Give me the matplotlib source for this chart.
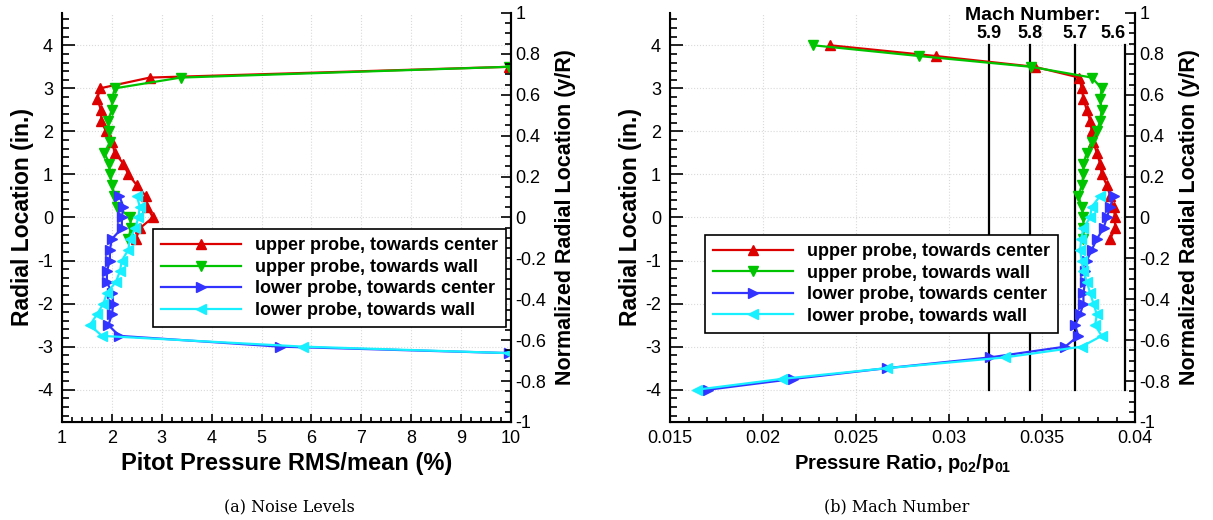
import matplotlib
matplotlib.use('Agg')
import matplotlib.pyplot as plt
from matplotlib.ticker import AutoMinorLocator, FormatStrFormatter

plt.rcParams['font.family'] = ['Liberation Sans', 'DejaVu Sans']
plt.rcParams['axes.unicode_minus'] = False
plt.rcParams['mathtext.fontset'] = 'custom'
plt.rcParams['mathtext.rm'] = 'Liberation Sans'
plt.rcParams['mathtext.bf'] = 'Liberation Sans:bold'

# ---- data: (a) noise levels ----
up_y = [3.5, 3.25, 3.0, 2.75, 2.5, 2.25, 2.0, 1.75, 1.5, 1.25, 1.0, 0.75, 0.5, 0.25, 0.0, -0.25, -0.5]
noise_up_center = [9.95, 2.76, 1.76, 1.71, 1.78, 1.79, 1.88, 2.0, 2.06, 2.23, 2.33, 2.50, 2.68, 2.71, 2.82, 2.56, 2.48]
noise_up_wall = [9.95, 3.38, 2.06, 2.0, 2.0, 1.92, 1.94, 1.96, 1.85, 1.95, 1.96, 2.01, 2.05, 2.10, 2.37, 2.38, 2.33]

low_y = [0.5, 0.25, 0.0, -0.25, -0.5, -0.75, -1.0, -1.25, -1.5, -1.75, -2.0, -2.25, -2.5, -2.75, -3.0, -3.15]
noise_low_center = [2.15, 2.23, 2.2, 2.2, 2.0, 1.96, 1.96, 1.9, 1.9, 2.0, 2.03, 2.0, 1.93, 2.15, 5.37, 9.95]
noise_low_wall = [2.5, 2.56, 2.53, 2.47, 2.36, 2.33, 2.2, 2.16, 2.08, 1.9, 1.83, 1.70, 1.56, 1.80, 5.84, 9.95]

# ---- data: (b) Mach number ----
up_y2 = [4.0, 3.75, 3.5, 3.25, 3.0, 2.75, 2.5, 2.25, 2.0, 1.75, 1.5, 1.25, 1.0, 0.75, 0.5, 0.25, 0.0, -0.25, -0.5]
ratio_up_center = [0.0236, 0.0293, 0.0346, 0.0370, 0.03713, 0.03722, 0.0374, 0.03758, 0.03767, 0.03776,
                   0.03794, 0.03812, 0.03821, 0.03848, 0.03866, 0.03884, 0.03892, 0.03892, 0.03866]
ratio_up_wall = [0.0227, 0.0284, 0.0344, 0.03767, 0.0382, 0.03812, 0.0382, 0.03812, 0.03794, 0.03767,
                 0.0374, 0.03722, 0.03722, 0.03713, 0.03695, 0.03713, 0.03722, 0.03722, 0.03722]

low_y2 = [0.5, 0.25, 0.0, -0.25, -0.5, -0.75, -1.0, -1.25, -1.5, -1.75, -2.0, -2.25, -2.5, -2.75, -3.0, -3.25, -3.5, -3.75, -4.0]
ratio_low_center = [0.03884, 0.03866, 0.03848, 0.0383, 0.03794, 0.03767, 0.0374, 0.03731, 0.03731, 0.03722,
                    0.03722, 0.03704, 0.03677, 0.03695, 0.03624, 0.0322, 0.02665, 0.02163, 0.01706]
ratio_low_wall = [0.03812, 0.03767, 0.03758, 0.03722, 0.0371, 0.03704, 0.03713, 0.03722, 0.0374, 0.03758,
                  0.03776, 0.03794, 0.03785, 0.0382, 0.03713, 0.03301, 0.02665, 0.02100, 0.01644]

mach_labels = ['5.9', '5.8', '5.7', '5.6']
mach_ratio = [0.03217, 0.03436, 0.03677, 0.03946]

labels = ['upper probe, towards center', 'upper probe, towards wall',
          'lower probe, towards center', 'lower probe, towards wall']
colors = ['#dd0000', '#00c400', '#3333ff', '#18f0ff']
markers = ['^', 'v', '>', '<']

R = 4.75
yr_ticks = [-1, -0.8, -0.6, -0.4, -0.2, 0, 0.2, 0.4, 0.6, 0.8, 1]

fig = plt.figure(figsize=(12.13, 5.2), dpi=100)


def setup(ax, xlabel, xsize):
    ax.set_ylim(-R, R)
    ax.spines['top'].set_visible(False)
    for s in ['left', 'bottom', 'right']:
        ax.spines[s].set_linewidth(1.5)
    ax.xaxis.set_minor_locator(AutoMinorLocator(5))
    ax.yaxis.set_minor_locator(AutoMinorLocator(5))
    ax.set_yticks([-4, -3, -2, -1, 0, 1, 2, 3, 4])
    ax.tick_params(axis='both', which='both', direction='in', labelsize=13, width=1.2,
                   top=False, right=False)
    ax.tick_params(axis='y', which='major', length=9, pad=6.5)
    ax.tick_params(axis='y', which='minor', length=5)
    ax.tick_params(axis='x', which='major', length=6, pad=5.5)
    ax.tick_params(axis='x', which='minor', length=3.5)
    ax.grid(True, which='major', color='#dadada', linestyle=':', linewidth=0.8)
    ax.set_axisbelow(True)
    ax.set_xlabel(xlabel, fontsize=xsize, fontweight='bold', labelpad=4)
    ax.set_ylabel('Radial Location (in.)', fontsize=16.5, fontweight='bold', labelpad=2)
    ax2 = ax.twinx()
    ax2.set_ylim(-1, 1)
    ax2.spines['top'].set_visible(False)
    ax2.spines['right'].set_linewidth(1.5)
    ax2.set_yticks(yr_ticks)
    ax2.set_yticklabels(['%g' % t for t in yr_ticks])
    ax2.yaxis.set_minor_locator(AutoMinorLocator(4))
    ax2.tick_params(axis='y', which='both', direction='in', labelsize=13, width=1.2, pad=3)
    ax2.tick_params(axis='y', which='major', length=7)
    ax2.tick_params(axis='y', which='minor', length=4)
    ax2.set_ylabel('Normalized Radial Location (y/R)', fontsize=15.5, fontweight='bold', labelpad=6)
    return ax2


def draw(ax, xs, ys):
    for x, y, c, m, lab in zip(xs, ys, colors, markers, labels):
        ax.plot(x, y, color=c, marker=m, markersize=7, linewidth=1.6,
                markeredgecolor=c, label=lab, zorder=3)


def add_legend(ax, loc, anchor):
    leg = ax.legend(loc=loc, bbox_to_anchor=anchor,
                    prop={'weight': 'bold', 'size': 13}, numpoints=1, handlelength=4.4,
                    fancybox=False, framealpha=1, edgecolor='black', borderpad=0.45,
                    labelspacing=0.25, handletextpad=0.8, borderaxespad=0)
    leg.get_frame().set_linewidth(1.2)
    return leg


# (a) noise levels
ax = fig.add_axes([0.0511, 0.1885, 0.3702, 0.7865])
ax.set_xlim(1, 10)
ax.set_xticks(range(1, 11))
draw(ax, [noise_up_center, noise_up_wall, noise_low_center, noise_low_wall],
     [up_y, up_y, low_y, low_y])
ax2 = setup(ax, 'Pitot Pressure RMS/mean (%)', 17)
leg = add_legend(ax, 'lower right', (0.989, 0.232))
leg.remove()
ax2.add_artist(leg)

# (b) Mach number
bx = fig.add_axes([0.5524, 0.1885, 0.3834, 0.7865])
bx.set_xlim(0.015, 0.04)
bx.set_xticks([0.015, 0.02, 0.025, 0.03, 0.035, 0.04])
bx.xaxis.set_major_formatter(FormatStrFormatter('%g'))
draw(bx, [ratio_up_center, ratio_up_wall, ratio_low_center, ratio_low_wall],
     [up_y2, up_y2, low_y2, low_y2])
for i, (m, r) in enumerate(zip(mach_labels, mach_ratio)):
    bx.plot([r, r], [-4, 4], color='black', linewidth=1.6, zorder=2)
    ha = 'right' if i == len(mach_labels) - 1 else 'center'
    bx.text(r, 4.27, m, ha=ha, va='center', fontsize=13, fontweight='bold')
bx.text(0.0345, 4.7, 'Mach Number:', ha='center', va='center', fontsize=14, fontweight='bold')
setup(bx, r'Pressure Ratio, $\mathbf{p_{02}/p_{01}}$', 14.5)
add_legend(bx, 'lower left', (0.075, 0.218))

# captions
fig.text(0.239, 0.025, '(a) Noise Levels', ha='center', va='center', fontsize=11.5, family='DejaVu Serif')
fig.text(0.7395, 0.025, '(b) Mach Number', ha='center', va='center', fontsize=11.5, family='DejaVu Serif')

fig.savefig('out.png', dpi=100)
